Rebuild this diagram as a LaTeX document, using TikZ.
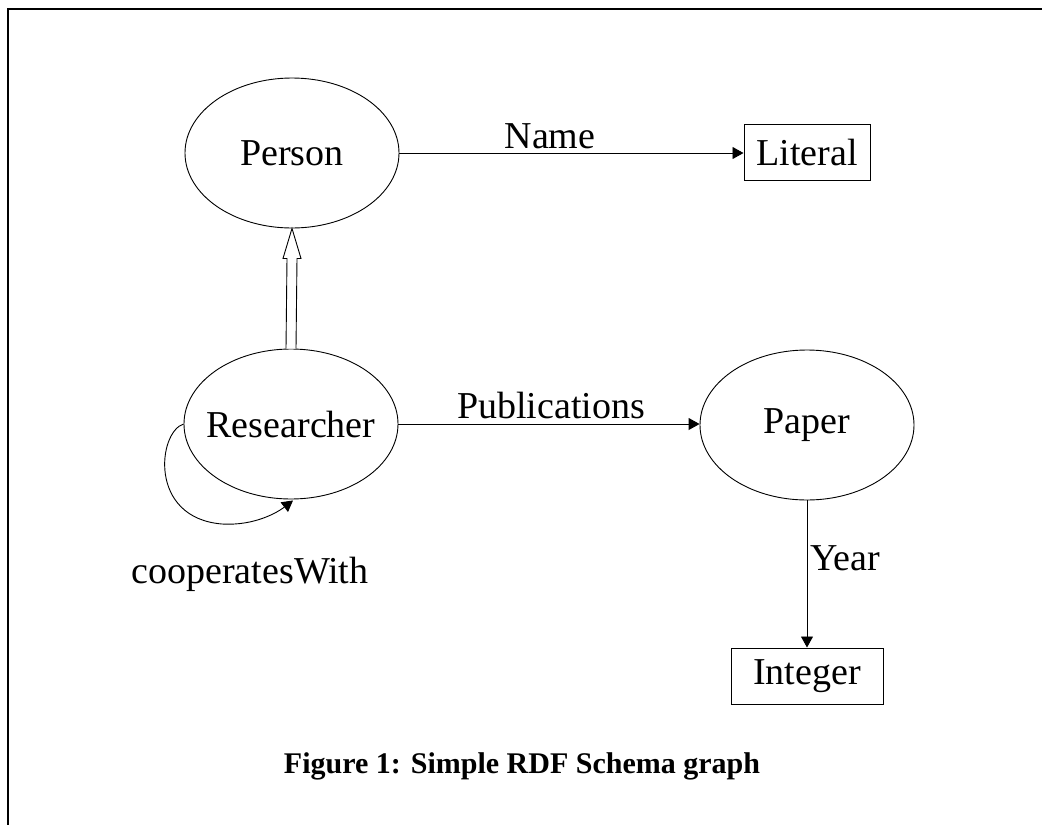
\documentclass[tikz,border=0pt]{standalone}
\usepackage{fontspec}
\setmainfont{Liberation Serif}
\usetikzlibrary{shapes.geometric,arrows.meta,calc}
\begin{document}
\begin{tikzpicture}[x=1pt,y=-1pt,
  cls/.style={draw,ellipse,minimum width=214pt,minimum height=150pt,inner sep=-30pt,font=\fontsize{38}{44}\selectfont,line width=0.9pt},
  lit/.style={draw,rectangle,inner sep=0pt,font=\fontsize{38}{44}\selectfont,line width=1pt},
  lbl/.style={anchor=base,inner sep=0pt,font=\fontsize{38}{44}\selectfont},
  arr/.style={line width=0.9pt,-{Triangle[length=11pt,width=12pt]}},
  ]
\useasboundingbox (0,0) rectangle (1042,825);
\draw[line width=2.8pt] (8,826) -- (8,9) -- (1043,9);

\node[cls] (person) at (292,153) {Person};
\node[cls] (researcher) at (291,424) {Researcher};
\node[cls] (paper) at (807,425) {Paper};
\node[lit,minimum width=126pt,minimum height=56pt] (literal) at (807,152) {Literal};
\node[lit,minimum width=152pt,minimum height=56pt] (integer) at (807,676) {Integer};

\draw[arr] (person.east) -- (person.east -| literal.west);
\draw[arr] (researcher.east) -- (researcher.east -| paper.west);
\draw[arr] (paper.south) -- (integer.north);

\draw[line width=0.9pt,fill=white] ($(researcher.north)+(-5,0)$) -- ($(person.south)+(-5,30)$) -- ($(person.south)+(-9,30)$) -- (person.south) -- ($(person.south)+(9,30)$) -- ($(person.south)+(5,30)$) -- ($(researcher.north)+(5,0)$);

\draw[arr] (researcher.west) .. controls (158,432) and (148,518) .. (222,524) .. controls (255,526) and (278,512) .. ($(researcher.south)+(2,1)$);

\node[lbl] (name) at (550,148) {Name};
\node[lbl] (pub) at (551,418) {Publications};
\node[lbl,anchor=base west] (year) at (810,570) {Year};
\node[lbl] (coop) at (250,583) {cooperatesWith};
\node[anchor=base,inner sep=0pt,font=\bfseries\fontsize{30}{36}\selectfont] (cap) at (522,773) {Figure 1: Simple RDF Schema graph};
\end{tikzpicture}
\end{document}
